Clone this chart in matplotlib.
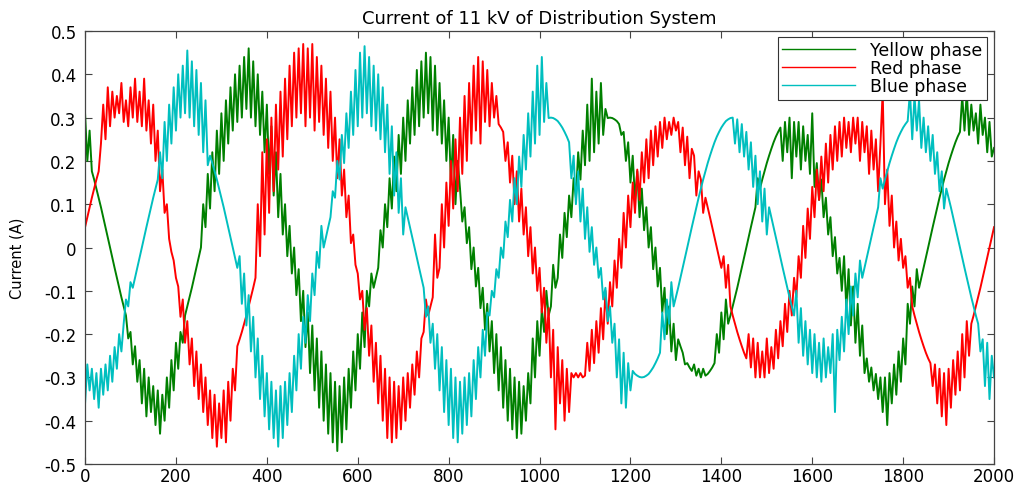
import matplotlib

matplotlib.use("Agg")
import matplotlib.pyplot as plt
import numpy as np

# phase currents, one value every 5 samples (0 .. 2000)
sample_step = 5

yellow_phase = [
    0.31, 0.20, 0.27, 0.176, 0.157, 0.136, 0.115, 0.093, 0.070, 0.047, 0.024, 0.000, -0.024, -0.047, -0.070, -0.093, -0.115, -0.136, -0.157, -0.21,
    -0.195, -0.27, -0.228, -0.31, -0.26, -0.36, -0.28, -0.39, -0.30, -0.38, -0.32, -0.41, -0.33, -0.43, -0.34, -0.40, -0.30, -0.37, -0.26, -0.33,
    -0.22, -0.28, -0.195, -0.22, -0.157, -0.136, -0.115, -0.093, -0.070, -0.047, -0.024, 0.000, 0.10, 0.047, 0.17, 0.09, 0.22, 0.13, 0.27, 0.17,
    0.31, 0.20, 0.34, 0.24, 0.37, 0.27, 0.40, 0.29, 0.42, 0.30, 0.44, 0.32, 0.46, 0.30, 0.43, 0.28, 0.40, 0.26, 0.36, 0.22,
    0.33, 0.17, 0.28, 0.12, 0.22, 0.07, 0.17, 0.03, 0.10, -0.02, 0.05, -0.06, 0.00, -0.11, -0.05, -0.17, -0.10, -0.23, -0.15, -0.29,
    -0.18, -0.33, -0.21, -0.37, -0.24, -0.40, -0.27, -0.43, -0.29, -0.45, -0.31, -0.47, -0.32, -0.45, -0.30, -0.42, -0.28, -0.37, -0.24, -0.33,
    -0.20, -0.28, -0.15, -0.23, -0.10, -0.136, -0.06, -0.093, -0.070, -0.047, 0.04, 0.000, 0.10, 0.047, 0.16, 0.09, 0.21, 0.13, 0.26, 0.17,
    0.30, 0.20, 0.34, 0.24, 0.37, 0.26, 0.41, 0.28, 0.43, 0.30, 0.45, 0.31, 0.44, 0.27, 0.42, 0.26, 0.38, 0.24, 0.34, 0.20,
    0.30, 0.15, 0.26, 0.10, 0.20, 0.136, 0.06, 0.093, 0.01, 0.047, -0.05, 0.00, -0.09, -0.047, -0.14, -0.093, -0.19, -0.13, -0.24, -0.17,
    -0.29, -0.20, -0.33, -0.23, -0.37, -0.26, -0.40, -0.28, -0.42, -0.30, -0.44, -0.31, -0.43, -0.32, -0.40, -0.29, -0.36, -0.21, -0.30, -0.17,
    -0.25, -0.14, -0.195, -0.10, -0.157, -0.136, -0.04, -0.093, -0.070, 0.03, -0.024, 0.08, 0.024, 0.12, 0.07, 0.16, 0.115, 0.22, 0.157, 0.27,
    0.19, 0.33, 0.20, 0.39, 0.22, 0.36, 0.24, 0.38, 0.26, 0.32, 0.299, 0.300, 0.299, 0.296, 0.292, 0.285, 0.26, 0.267, 0.20, 0.243,
    0.15, 0.212, 0.11, 0.176, 0.07, 0.136, 0.04, 0.093, 0.00, 0.047, -0.05, 0.00, -0.09, -0.047, -0.15, -0.093, -0.20, -0.136, -0.24, -0.176,
    -0.26, -0.212, -0.228, -0.243, -0.27, -0.267, -0.277, -0.285, -0.27, -0.296, -0.28, -0.300, -0.28, -0.296, -0.292, -0.285, -0.277, -0.267, -0.20, -0.243,
    -0.15, -0.212, -0.12, -0.176, -0.157, -0.136, -0.115, -0.093, -0.070, -0.047, -0.024, 0.000, 0.024, 0.047, 0.070, 0.093, 0.16, 0.136, 0.157, 0.176,
    0.195, 0.212, 0.228, 0.243, 0.256, 0.267, 0.277, 0.20, 0.29, 0.22, 0.30, 0.16, 0.29, 0.21, 0.29, 0.18, 0.28, 0.20, 0.26, 0.17,
    0.31, 0.14, 0.195, 0.11, 0.157, 0.07, 0.115, 0.03, 0.070, -0.02, 0.024, -0.06, -0.024, -0.10, -0.02, -0.14, -0.05, -0.18, -0.09, -0.22,
    -0.13, -0.25, -0.18, -0.29, -0.256, -0.31, -0.277, -0.33, -0.292, -0.35, -0.30, -0.38, -0.30, -0.41, -0.29, -0.36, -0.27, -0.34, -0.24, -0.31,
    -0.21, -0.27, -0.13, -0.176, -0.09, -0.136, -0.05, -0.093, -0.070, -0.047, -0.024, 0.000, 0.024, 0.047, 0.070, 0.093, 0.115, 0.136, 0.157, 0.176,
    0.195, 0.212, 0.228, 0.243, 0.256, 0.267, 0.35, 0.27, 0.36, 0.26, 0.33, 0.27, 0.31, 0.24, 0.33, 0.26, 0.30, 0.22, 0.29, 0.21,
    0.23,
]

red_phase = [
    0.047, 0.070, 0.093, 0.115, 0.136, 0.157, 0.176, 0.24, 0.33, 0.25, 0.37, 0.28, 0.36, 0.30, 0.35, 0.31, 0.38, 0.29, 0.34, 0.28,
    0.37, 0.30, 0.39, 0.29, 0.36, 0.28, 0.39, 0.27, 0.34, 0.24, 0.33, 0.20, 0.27, 0.13, 0.18, 0.08, 0.10, 0.02, -0.01, -0.03,
    -0.07, -0.09, -0.16, -0.12, -0.22, -0.17, -0.27, -0.21, -0.32, -0.24, -0.35, -0.27, -0.38, -0.30, -0.41, -0.33, -0.44, -0.34, -0.46, -0.36,
    -0.44, -0.33, -0.45, -0.31, -0.40, -0.28, -0.33, -0.228, -0.212, -0.195, -0.176, -0.157, -0.136, -0.115, -0.093, -0.070, 0.10, -0.02, 0.22, 0.03,
    0.25, 0.08, 0.30, 0.13, 0.33, 0.18, 0.36, 0.21, 0.39, 0.25, 0.42, 0.28, 0.45, 0.30, 0.46, 0.31, 0.47, 0.28, 0.46, 0.30,
    0.47, 0.27, 0.44, 0.29, 0.42, 0.26, 0.39, 0.23, 0.36, 0.20, 0.30, 0.16, 0.25, 0.12, 0.18, 0.07, 0.12, 0.01, 0.03, -0.04,
    -0.06, -0.12, -0.10, -0.19, -0.14, -0.25, -0.18, -0.31, -0.22, -0.36, -0.25, -0.40, -0.28, -0.44, -0.30, -0.45, -0.31, -0.44, -0.32, -0.42,
    -0.30, -0.40, -0.29, -0.37, -0.27, -0.34, -0.24, -0.30, -0.21, -0.195, -0.12, -0.157, -0.136, -0.115, 0.03, -0.07, -0.047, 0.10, 0.00, 0.15,
    0.05, 0.20, 0.09, 0.25, 0.13, 0.30, 0.17, 0.35, 0.20, 0.38, 0.24, 0.42, 0.27, 0.44, 0.24, 0.43, 0.29, 0.41, 0.28, 0.38,
    0.30, 0.35, 0.285, 0.277, 0.267, 0.20, 0.243, 0.15, 0.212, 0.10, 0.176, 0.06, 0.136, 0.03, 0.093, -0.02, 0.047, -0.06, 0.00, -0.10,
    -0.047, -0.15, -0.093, -0.22, -0.14, -0.30, -0.19, -0.42, -0.23, -0.36, -0.26, -0.40, -0.28, -0.38, -0.29, -0.30, -0.29, -0.30, -0.29, -0.30,
    -0.296, -0.22, -0.285, -0.19, -0.267, -0.17, -0.243, -0.14, -0.212, -0.10, -0.176, -0.08, -0.136, -0.03, -0.093, 0.02, -0.047, 0.08, 0.00, 0.12,
    0.047, 0.15, 0.08, 0.18, 0.11, 0.22, 0.15, 0.25, 0.16, 0.27, 0.19, 0.28, 0.21, 0.29, 0.23, 0.30, 0.25, 0.29, 0.26, 0.30,
    0.27, 0.29, 0.22, 0.277, 0.19, 0.256, 0.16, 0.228, 0.212, 0.12, 0.176, 0.157, 0.08, 0.115, 0.093, 0.070, 0.047, 0.024, 0.000, -0.024,
    -0.047, -0.02, -0.093, -0.04, -0.136, -0.157, -0.176, -0.195, -0.212, -0.228, -0.243, -0.256, -0.20, -0.277, -0.21, -0.30, -0.22, -0.30, -0.24, -0.30,
    -0.21, -0.29, -0.23, -0.28, -0.19, -0.256, -0.17, -0.228, -0.13, -0.195, -0.10, -0.157, -0.07, -0.115, -0.02, -0.070, 0.05, -0.024, 0.09, 0.02,
    0.14, 0.07, 0.18, 0.11, 0.21, 0.13, 0.24, 0.15, 0.26, 0.18, 0.28, 0.20, 0.29, 0.21, 0.30, 0.23, 0.29, 0.22, 0.30, 0.24,
    0.30, 0.20, 0.29, 0.22, 0.28, 0.17, 0.27, 0.18, 0.25, 0.13, 0.24, 0.36, 0.10, 0.18, 0.05, 0.12, 0.00, 0.06, -0.03, 0.02,
    -0.047, -0.02, -0.093, -0.07, -0.136, -0.157, -0.176, -0.195, -0.212, -0.228, -0.243, -0.256, -0.267, -0.32, -0.27, -0.36, -0.28, -0.39, -0.29, -0.41,
    -0.28, -0.37, -0.26, -0.34, -0.24, -0.33, -0.20, -0.30, -0.17, -0.25, -0.176, -0.157, -0.136, -0.115, -0.093, -0.070, -0.047, -0.024, 0.000, 0.024,
    0.047,
]

blue_phase = [
    -0.36, -0.27, -0.33, -0.28, -0.35, -0.29, -0.37, -0.28, -0.34, -0.27, -0.33, -0.25, -0.31, -0.23, -0.28, -0.20, -0.24, -0.176, -0.12, -0.136,
    -0.08, -0.093, -0.070, -0.047, -0.024, 0.000, 0.024, 0.047, 0.070, 0.093, 0.115, 0.136, 0.157, 0.22, 0.16, 0.29, 0.20, 0.33, 0.24, 0.37,
    0.27, 0.40, 0.30, 0.42, 0.31, 0.455, 0.30, 0.43, 0.28, 0.41, 0.26, 0.38, 0.22, 0.34, 0.19, 0.212, 0.195, 0.176, 0.157, 0.136,
    0.115, 0.093, 0.070, 0.047, 0.024, 0.000, -0.024, -0.047, -0.02, -0.13, -0.06, -0.18, -0.11, -0.24, -0.16, -0.30, -0.21, -0.35, -0.25, -0.39,
    -0.29, -0.42, -0.31, -0.44, -0.33, -0.46, -0.32, -0.44, -0.31, -0.41, -0.29, -0.38, -0.25, -0.33, -0.20, -0.28, -0.16, -0.22, -0.11, -0.17,
    -0.06, -0.11, -0.01, -0.047, 0.05, 0.000, 0.024, 0.047, 0.070, 0.13, 0.115, 0.20, 0.157, 0.26, 0.195, 0.31, 0.23, 0.36, 0.26, 0.41,
    0.28, 0.45, 0.30, 0.465, 0.31, 0.44, 0.28, 0.42, 0.27, 0.40, 0.25, 0.37, 0.22, 0.33, 0.17, 0.28, 0.12, 0.22, 0.08, 0.16,
    0.03, 0.093, 0.070, 0.047, 0.024, 0.000, -0.024, -0.047, -0.070, -0.093, -0.16, -0.136, -0.22, -0.176, -0.28, -0.20, -0.33, -0.23, -0.38, -0.26,
    -0.41, -0.28, -0.44, -0.30, -0.45, -0.31, -0.43, -0.30, -0.41, -0.29, -0.39, -0.26, -0.35, -0.23, -0.30, -0.19, -0.25, -0.15, -0.157, -0.10,
    -0.115, -0.05, -0.070, 0.00, -0.024, 0.06, 0.024, 0.11, 0.06, 0.16, 0.10, 0.21, 0.14, 0.26, 0.18, 0.31, 0.21, 0.36, 0.24, 0.42,
    0.26, 0.44, 0.29, 0.38, 0.299, 0.300, 0.299, 0.296, 0.292, 0.285, 0.277, 0.267, 0.256, 0.243, 0.16, 0.212, 0.10, 0.176, 0.06, 0.136,
    0.02, 0.093, -0.01, 0.047, -0.04, 0.000, -0.07, -0.047, -0.12, -0.093, -0.17, -0.136, -0.22, -0.176, -0.30, -0.212, -0.36, -0.243, -0.37, -0.267,
    -0.33, -0.285, -0.292, -0.296, -0.299, -0.300, -0.299, -0.296, -0.292, -0.285, -0.277, -0.267, -0.256, -0.243, -0.15, -0.212, -0.12, -0.176, -0.08, -0.136,
    -0.115, -0.093, -0.070, -0.047, -0.024, 0.000, 0.024, 0.047, 0.070, 0.093, 0.115, 0.136, 0.157, 0.176, 0.195, 0.212, 0.228, 0.243, 0.256, 0.267,
    0.277, 0.285, 0.292, 0.296, 0.299, 0.300, 0.24, 0.296, 0.22, 0.285, 0.21, 0.267, 0.18, 0.243, 0.14, 0.212, 0.10, 0.176, 0.06, 0.136,
    0.03, 0.093, 0.070, 0.047, 0.024, 0.000, -0.024, -0.047, -0.070, -0.093, -0.115, -0.136, -0.157, -0.10, -0.22, -0.14, -0.25, -0.17, -0.27, -0.19,
    -0.29, -0.20, -0.30, -0.22, -0.31, -0.21, -0.30, -0.23, -0.29, -0.20, -0.38, -0.19, -0.26, -0.16, -0.24, -0.12, -0.20, -0.09, -0.157, -0.06,
    -0.115, -0.03, -0.070, -0.047, -0.024, 0.000, 0.024, 0.047, 0.070, 0.093, 0.16, 0.136, 0.157, 0.176, 0.195, 0.212, 0.228, 0.243, 0.256, 0.267,
    0.277, 0.285, 0.292, 0.36, 0.25, 0.35, 0.27, 0.34, 0.23, 0.30, 0.22, 0.28, 0.20, 0.26, 0.17, 0.22, 0.13, 0.176, 0.09, 0.136,
    0.115, 0.093, 0.070, 0.047, 0.024, 0.000, -0.024, -0.047, -0.070, -0.093, -0.115, -0.136, -0.157, -0.176, -0.24, -0.212, -0.32, -0.22, -0.35, -0.25,
    -0.30,
]

series_labels = ["Yellow phase", "Red phase", "Blue phase"]
series_colors = ["#008000", "#ff0000", "#00bfbf"]  # matlab-ish g, r, c

x_ticks = [0, 200, 400, 600, 800, 1000, 1200, 1400, 1600, 1800, 2000]
y_ticks = [-0.5, -0.4, -0.3, -0.2, -0.1, 0.0, 0.1, 0.2, 0.3, 0.4, 0.5]
y_tick_labels = ["-0.5", "-0.4", "-0.3", "-0.2", "-0.1", "0", "0.1", "0.2", "0.3", "0.4", "0.5"]

plt.rcParams["font.family"] = ["DejaVu Sans"]

samples = np.arange(len(red_phase)) * sample_step

fig = plt.figure(figsize=(10.21, 4.85), dpi=100)
ax = fig.add_axes([0.0833, 0.0412, 0.8903, 0.8928])

for vals, label, color in zip([yellow_phase, red_phase, blue_phase], series_labels, series_colors):
    ax.plot(samples, vals, color=color, linewidth=1.4, label=label)

ax.set_xlim(0, 2000)
ax.set_ylim(-0.5, 0.5)
ax.set_xticks(x_ticks)
ax.set_yticks(y_ticks)
ax.set_yticklabels(y_tick_labels)
ax.tick_params(direction="in", top=True, right=True, length=5, width=0.8,
               labelsize=12, color="#444444")
ax.tick_params(axis="x", pad=2)
ax.tick_params(axis="y", pad=6)
for sp in ax.spines.values():
    sp.set_color("#444444")
    sp.set_linewidth(0.9)

ax.set_title("Current of 11 kV of Distribution System", fontsize=13, pad=6)
ax.set_ylabel("Current (A)", fontsize=10.5, family=["Liberation Sans Narrow", "DejaVu Sans"])
ax.yaxis.set_label_coords(-0.067, 0.478)

leg = ax.legend(loc="upper right", bbox_to_anchor=(0.9923, 0.986), borderaxespad=0,
                fancybox=False, framealpha=1, edgecolor="#333333", fontsize=12.5,
                handlelength=4.2, labelspacing=0.0, borderpad=0.25, handletextpad=0.9)
leg.get_frame().set_linewidth(0.8)
for line in leg.get_lines():
    line.set_linewidth(1.0)

fig.savefig("out.png", dpi=100)
plt.close(fig)
